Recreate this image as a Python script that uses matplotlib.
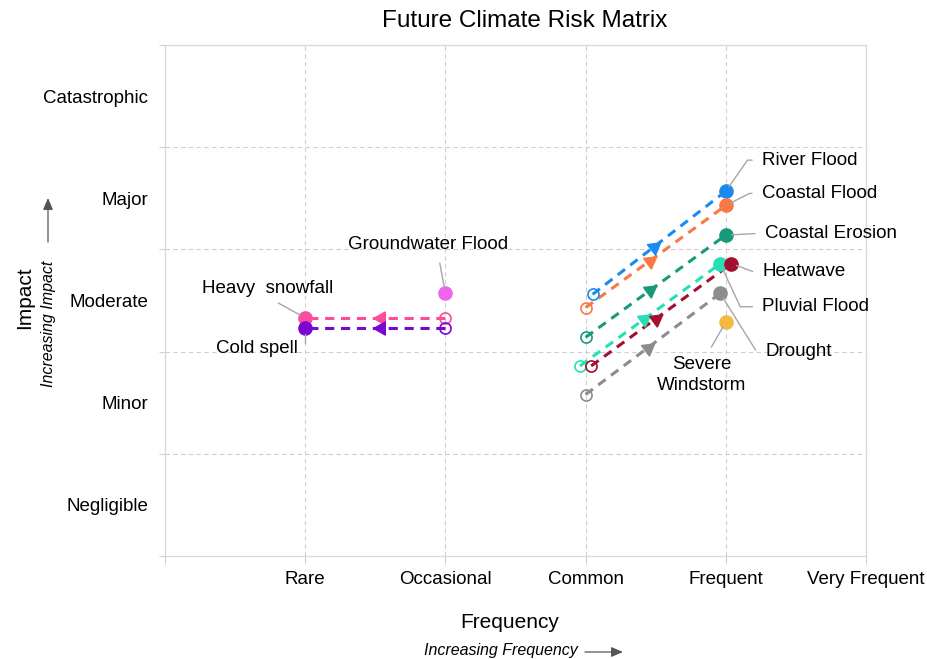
import matplotlib
matplotlib.use('Agg')
import matplotlib.pyplot as plt
from matplotlib.patches import FancyArrowPatch
import numpy as np

plt.rcParams['font.family'] = ['Liberation Sans', 'DejaVu Sans']

# Axis categories
frequency_labels = ['Rare', 'Occasional', 'Common', 'Frequent', 'Very Frequent']
impact_labels = ['Negligible', 'Minor', 'Moderate', 'Major', 'Catastrophic']

# Hazards: current -> future position (frequency, impact); nan = no current point
hazards = ['River Flood', 'Coastal Flood', 'Coastal Erosion', 'Pluvial Flood', 'Heatwave',
           'Drought', 'Severe Windstorm', 'Groundwater Flood', 'Heavy snowfall', 'Cold spell']
current_freq = [3.05, 3.0, 3.0, 2.96, 3.04, 3.0, np.nan, np.nan, 2.0, 2.0]
current_impact = [2.56, 2.43, 2.14, 1.86, 1.86, 1.58, np.nan, np.nan, 2.33, 2.23]
future_freq = [4.0, 4.0, 4.0, 3.96, 4.04, 3.96, 4.0, 2.0, 1.0, 1.0]
future_impact = [3.57, 3.43, 3.14, 2.86, 2.86, 2.57, 2.29, 2.57, 2.33, 2.23]
colors = ['#1a8af0', '#fa7845', '#179a7b', '#25e0b4', '#a30f2e',
          '#8c8c8c', '#f5b942', '#f064f0', '#fb4c9e', '#7a06d2']

# label placement: offset (px) from future point, alignment, leader attach point, leader angle
label_cfg = {
    'River Flood':       ((36, 31), 'left', 'center', (0, 0.5), 55),
    'Coastal Flood':     ((36, 12), 'left', 'center', (0, 0.5), 27),
    'Coastal Erosion':   ((39, 2), 'left', 'center', (0, 0.5), None),
    'Pluvial Flood':     ((42, -43), 'left', 'center', (0, 0.5), -65),
    'Heatwave':          ((31, -8), 'left', 'center', (0, 0.5), -20),
    'Drought':           ((45, -58), 'left', 'center', (0, 0.5), -58),
    'Severe Windstorm':  ((-24, -34), 'center', 'top', (0.55, 1), None),
    'Groundwater Flood': ((-17, 40), 'center', 'bottom', (0.56, 0), None),
    'Heavy snowfall':    ((-38, 21), 'center', 'bottom', (0.5, 0), None),
    'Cold spell':        ((-7, -20), 'right', 'center', (1, 0.5), 90),
}
label_text = {'Severe Windstorm': 'Severe\nWindstorm', 'Heavy snowfall': 'Heavy  snowfall'}

fig = plt.figure(figsize=(9.27, 6.59), dpi=100)
ax = fig.add_axes([165 / 927, 1 - 556 / 659, (866 - 165) / 927, (556 - 45) / 659])
ax.set_xlim(0, 5)
ax.set_ylim(0, 5)

for s in ax.spines.values():
    s.set_color('#d9d9d9')
    s.set_linewidth(1)

ax.set_xticks(range(0, 6))
ax.set_xticklabels([''] + frequency_labels, fontsize=13.5)
ax.tick_params(axis='x', length=6, color='#d0d0d0', pad=5)
ax.set_yticks(range(0, 6))
ax.set_yticklabels([])
ax.set_yticks(np.arange(0.5, 5, 1), minor=True)
ax.set_yticklabels(impact_labels, minor=True, fontsize=13.5)
ax.tick_params(axis='y', which='major', length=4, color='#d0d0d0')
ax.tick_params(axis='y', which='minor', length=0, pad=12)

for v in range(1, 5):
    ax.axvline(v, color='#cfcfcf', lw=0.8, ls=(0, (4, 3)), zorder=0)
    ax.axhline(v, color='#cfcfcf', lw=0.8, ls=(0, (4, 3)), zorder=0)

for i, name in enumerate(hazards):
    c = colors[i]
    x0, y0 = current_freq[i], current_impact[i]
    x1, y1 = future_freq[i], future_impact[i]
    if not np.isnan(x0):
        ax.plot([x0, x1], [y0, y1], color=c, lw=2.2, ls=(0, (3, 2.2)), zorder=2)
        ax.plot(x0, y0, 'o', ms=8, mfc='none', mec=c, mew=1.2, zorder=3)
        # direction triangle near the middle of the path
        p0 = ax.transData.transform((x0, y0))
        p1 = ax.transData.transform((x1, y1))
        ang = np.degrees(np.arctan2(p1[1] - p0[1], p1[0] - p0[0]))
        t = 0.46
        ax.plot(x0 + t * (x1 - x0), y0 + t * (y1 - y0), marker=(3, 0, ang - 90),
                ms=11, color=c, mec=c, ls='none', zorder=4)
    ax.plot(x1, y1, 'o', ms=9.5, color=c, mec=c, zorder=5)

    (dx, dy), ha, va, relpos, angB = label_cfg[name]
    if angB is None:
        conn = 'arc3'
    else:
        conn = 'angle,angleA=0,angleB=%d,rad=0' % angB
    ax.annotate(label_text.get(name, name), xy=(x1, y1), xytext=(dx, dy),
                textcoords='offset pixels', ha=ha, va=va, fontsize=13.5,
                linespacing=1.3, zorder=6,
                arrowprops=dict(arrowstyle='-', color='#a6a6a6', lw=1,
                                connectionstyle=conn, relpos=relpos,
                                shrinkA=5, shrinkB=4))

# titles and axis descriptions
fig.text(525 / 927, 1 - 21 / 659, 'Future Climate Risk Matrix', fontsize=17.5,
         ha='center', va='center')
fig.text(25 / 927, 1 - 298 / 659, 'Impact', fontsize=15, rotation=90,
         ha='center', va='center')
fig.text(48 / 927, 1 - 324 / 659, 'Increasing Impact', fontsize=11.5, style='italic',
         rotation=90, ha='center', va='center')
fig.text(510 / 927, 1 - 622 / 659, 'Frequency', fontsize=15, ha='center', va='center')
fig.text(501 / 927, 1 - 651 / 659, 'Increasing Frequency', fontsize=11.5, style='italic',
         ha='center', va='center')

arrow_kw = dict(arrowstyle='-|>,head_length=0.7,head_width=0.3', mutation_scale=10,
                color='#555555', lw=0.9, shrinkA=0, shrinkB=0)
fig.add_artist(FancyArrowPatch((48 / 927, 1 - 242 / 659), (48 / 927, 1 - 198 / 659),
                               transform=fig.transFigure, **arrow_kw))
fig.add_artist(FancyArrowPatch((585 / 927, 1 - 652 / 659), (623 / 927, 1 - 652 / 659),
                               transform=fig.transFigure, **arrow_kw))

fig.savefig('out.png', dpi=100)
